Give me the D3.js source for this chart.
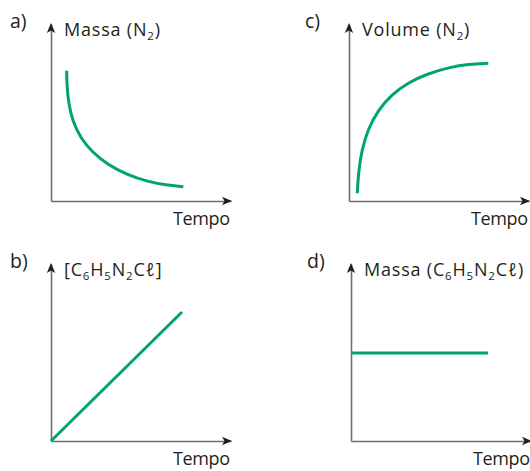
<!DOCTYPE html>
<html>
<head>
<meta charset="utf-8">
<script src="https://cdn.jsdelivr.net/npm/d3@7"></script>
<style>
  html, body { margin: 0; padding: 0; background: #fff; }
  svg { display: block; }
  text { font-family: "Open Sans", Lato, sans-serif; fill: #231f20; }
</style>
</head>
<body>
<svg id="chart" width="530" height="471"></svg>
<script>
// Panel letters and axis titles (subscripts marked as "sub")
const panelIds = ["a", "c", "b", "d"];
const yTitles = [
  [["Massa (N", ""], ["2", "sub"], [")", ""]],
  [["Volume (N", ""], ["2", "sub"], [")", ""]],
  [["[C", ""], ["6", "sub"], ["H", ""], ["5", "sub"], ["N", ""], ["2", "sub"], ["Cℓ]", ""]],
  [["Massa (C", ""], ["6", "sub"], ["H", ""], ["5", "sub"], ["N", ""], ["2", "sub"], ["Cℓ)", ""]]
];
const xTitle = "Tempo";

// Curves, in axis units (0..10 on both axes)
const timeA = [0.87, 0.88, 0.97, 1.20, 1.65, 2.30, 3.15, 4.20, 5.40, 6.40, 7.35];
const massN2 = [7.36, 6.60, 5.55, 4.50, 3.55, 2.75, 2.05, 1.50, 1.08, 0.90, 0.81];

const timeC = [0.46, 0.52, 0.70, 1.05, 1.60, 2.35, 3.30, 4.40, 5.55, 6.65, 7.74];
const volumeN2 = [0.44, 1.55, 2.85, 4.05, 5.10, 6.00, 6.70, 7.20, 7.55, 7.74, 7.78];

const timeB = [0, 7.28];
const concSalt = [0, 7.29];

const timeD = [0, 7.61];
const massSalt = [4.97, 4.97];

const series = [
  { t: timeA, v: massN2, curve: d3.curveBasis },
  { t: timeC, v: volumeN2, curve: d3.curveBasis },
  { t: timeB, v: concSalt, curve: d3.curveLinear },
  { t: timeD, v: massSalt, curve: d3.curveLinear }
];

// Panel origins (where the two axes meet)
const origins = [[51, 201], [349, 201], [51, 441], [351, 441]];
const xLen = 180, yLen = 177;

const svg = d3.select("#chart");
const green = "#00a46c";
const axisGrey = "#6d6e70";

panelIds.forEach((id, i) => {
  const [ox, oy] = origins[i];
  const x = d3.scaleLinear().domain([0, 10]).range([ox, ox + xLen]);
  const y = d3.scaleLinear().domain([0, 10]).range([oy, oy - yLen]);
  const g = svg.append("g");

  // Axes without ticks
  const xa = g.append("g").attr("transform", `translate(0,${oy})`)
    .call(d3.axisBottom(x).tickValues([]).tickSizeOuter(0));
  const ya = g.append("g").attr("transform", `translate(${ox},0)`)
    .call(d3.axisLeft(y).tickValues([]).tickSizeOuter(0));
  [xa, ya].forEach(a => a.select(".domain")
    .attr("stroke", axisGrey).attr("stroke-width", 1.6));

  // Arrowheads
  const head = "M0,0 L-10,-4.2 L-7.5,0 L-10,4.2 Z";
  g.append("path").attr("d", head).attr("fill", "#231f20")
    .attr("transform", `translate(${x(10) + 1},${oy})`);
  g.append("path").attr("d", head).attr("fill", "#231f20")
    .attr("transform", `translate(${ox},${y(10) - 1}) rotate(-90)`);

  // Data line
  const s = series[i];
  const pts = s.t.map((t, k) => [t, s.v[k]]);
  g.append("path")
    .datum(pts)
    .attr("fill", "none")
    .attr("stroke", green)
    .attr("stroke-width", 3)
    .attr("d", d3.line().x(d => x(d[0])).y(d => y(d[1])).curve(s.curve));

  // Panel letter
  g.append("text")
    .attr("x", ox - 41 + (i % 2 === 1 ? -3 : 0))
    .attr("y", oy - 173)
    .attr("font-size", 19.5)
    .text(id + ")");

  // y-axis title
  const yt = g.append("text")
    .attr("x", ox + 13)
    .attr("y", oy - 165)
    .attr("font-size", 18)
    .attr("letter-spacing", 0.8);
  yTitles[i].forEach(([str, kind], k) => {
    if (kind === "sub") {
      yt.append("tspan").attr("font-size", 11.5).attr("dy", 4).text(str);
    } else {
      const ts = yt.append("tspan").text(str);
      if (k > 0) ts.attr("dy", -4);
    }
  });

  // x-axis title
  g.append("text")
    .attr("x", x(10) - 58)
    .attr("y", oy + 24)
    .attr("font-size", 18)
    .attr("textLength", 57)
    .text(xTitle);
});
</script>
</body>
</html>
